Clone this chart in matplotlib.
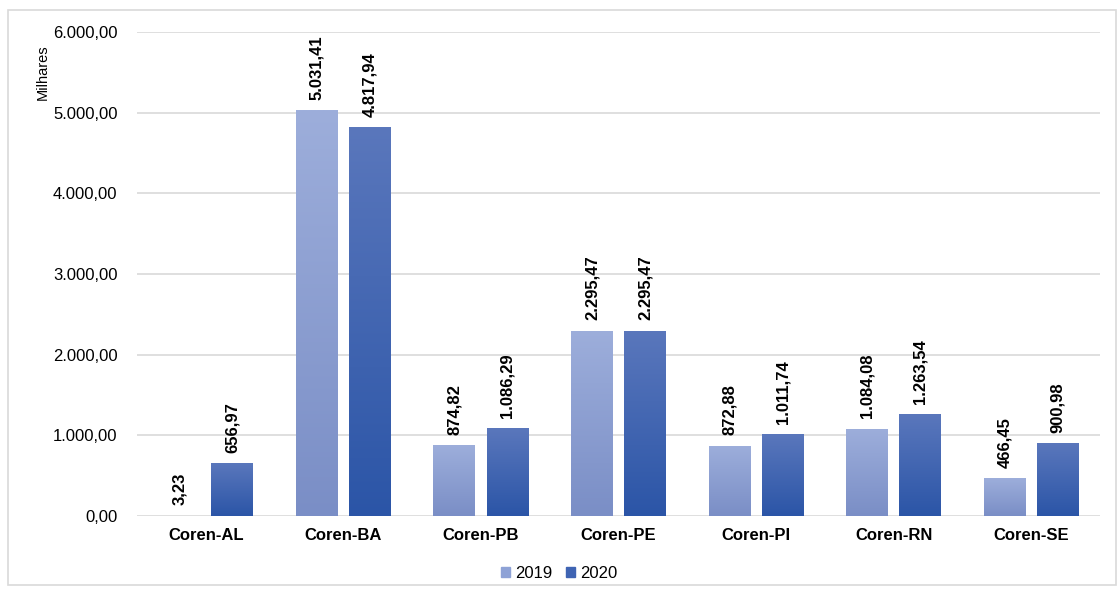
import matplotlib.pyplot as plt
import numpy as np
from matplotlib.colors import LinearSegmentedColormap
from matplotlib.patches import Rectangle
from matplotlib.ticker import FuncFormatter

plt.rcParams['font.family'] = ['Liberation Sans', 'DejaVu Sans']

categories = ["Coren-AL", "Coren-BA", "Coren-PB", "Coren-PE", "Coren-PI", "Coren-RN", "Coren-SE"]
v2019 = [3.23, 5031.41, 874.82, 2295.47, 872.88, 1084.08, 466.45]
v2020 = [656.97, 4817.94, 1086.29, 2295.47, 1011.74, 1263.54, 900.98]
series = ["2019", "2020"]


def br(v):
    s = f"{v:,.2f}"
    return s.replace(",", "X").replace(".", ",").replace("X", ".")


fig = plt.figure(figsize=(11.18, 5.89), dpi=100)
ax = fig.add_axes([137 / 1118, 1 - 516 / 589, 963 / 1118, 484 / 589])

# outer frame
fig.patches.append(Rectangle((8 / 1118, 4 / 589), 1108 / 1118, 575 / 589, transform=fig.transFigure,
                             fill=False, edgecolor="#D9D9D9", lw=1.2))

cmaps = [LinearSegmentedColormap.from_list("c19", ["#7A8EC6", "#9DAEDB"]),
         LinearSegmentedColormap.from_list("c20", ["#2B55A7", "#5A77BC"])]
solid = ["#8EA2D6", "#3F64B3"]

x = np.arange(len(categories))
w = 0.305
off = 0.193
grad = np.linspace(0, 1, 256).reshape(-1, 1)

for i, (vals, name) in enumerate(zip([v2019, v2020], series)):
    pos = x + (-off if i == 0 else off)
    bars = ax.bar(pos, vals, w, color="none", edgecolor="none", zorder=3, label=name)
    for b, v in zip(bars, vals):
        x0, x1 = b.get_x(), b.get_x() + b.get_width()
        im = ax.imshow(grad, cmap=cmaps[i], extent=(x0, x1, 0, max(v, 1)), origin="lower",
                       aspect="auto", zorder=3)
        im.set_clip_path(b)
        ax.text(b.get_x() + b.get_width() / 2, v + 130, br(v), rotation=90, ha="center", va="bottom",
                fontsize=12, fontweight="bold", zorder=4)

ax.set_xlim(-0.5, len(categories) - 0.5)
ax.set_ylim(0, 6000)
ax.set_yticks(np.arange(0, 6001, 1000))
ax.yaxis.set_major_formatter(FuncFormatter(lambda v, p: br(v)))
ax.set_xticks(x)
ax.set_xticklabels(categories, fontsize=12, fontweight="bold")
ax.tick_params(axis="y", labelsize=12, length=0, pad=14)
ax.tick_params(axis="x", length=0, pad=9)
ax.grid(axis="y", color="#D9D9D9", lw=1.2, zorder=0)
for s in ax.spines.values():
    s.set_visible(False)

fig.text(43 / 1118, 1 - 72 / 589, "Milhares", rotation=90, ha="center", va="center", fontsize=10.5)

handles = [Rectangle((0, 0), 1, 1, color=c) for c in solid]
fig.legend(handles, series, loc="center", bbox_to_anchor=(0.5, 1 - 573 / 589), ncol=2, frameon=False,
           fontsize=12, handlelength=0.55, handleheight=0.55, handletextpad=0.3, columnspacing=0.8)

fig.savefig("out.png", dpi=100)
